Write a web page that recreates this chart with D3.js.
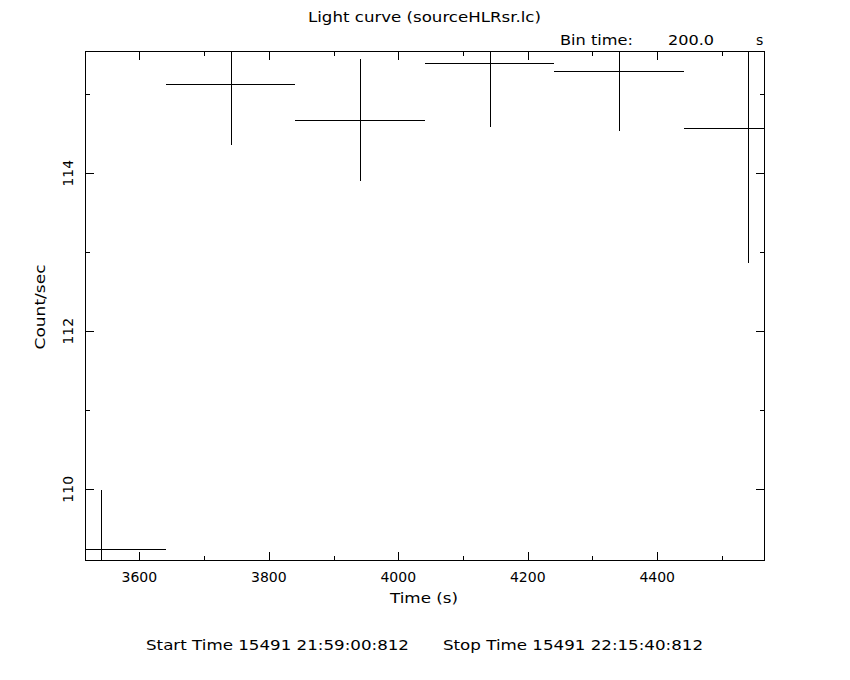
<!DOCTYPE html>
<html>
<head>
<meta charset="utf-8">
<script src="https://cdn.jsdelivr.net/npm/d3@7"></script>
<style>
  html, body { margin: 0; padding: 0; background: #fff; }
  svg { display: block; }
  text { font-family: "DejaVu Sans", "Liberation Sans", sans-serif; fill: #000; }
</style>
</head>
<body>
<svg id="chart" width="850" height="680"></svg>
<script>
// ---- data ----
const binTimes = [3541, 3741, 3941, 4141, 4341, 4541];
const rates    = [109.25, 115.13, 114.67, 115.39, 115.30, 114.57];
const rateErrs = [0.74, 0.77, 0.77, 0.80, 0.77, 1.71];
const binHalfWidth = 100;
const xMajorTicks = [3600, 3800, 4000, 4200, 4400];
const xMinorTicks = [3700, 3900, 4100, 4300, 4500];
const yMajorTicks = [110, 112, 114];
const yMinorTicks = [111, 113, 115];
const titleText = "Light curve (sourceHLRsr.lc)";
const binLabel = "Bin time:";
const binValue = "200.0";
const binUnit = "s";
const xLabel = "Time (s)";
const yLabel = "Count/sec";
const startText = "Start Time 15491 21:59:00:812";
const stopText = "Stop Time 15491 22:15:40:812";

// ---- layout ----
const L = 85, R = 764, T = 51, B = 560;
const svg = d3.select("#chart");
svg.append("rect").attr("width", 850).attr("height", 680).attr("fill", "#fff");

const x = d3.scaleLinear().domain([3516, 4565]).range([L, R]);
const y = d3.scaleLinear().domain([109.105, 115.547]).range([B, T]);

const px = v => Math.round(v) + 0.5;

svg.append("defs").append("clipPath").attr("id", "clip")
  .append("rect").attr("x", L).attr("y", T).attr("width", R - L).attr("height", B - T);

const g = svg.append("g").attr("clip-path", "url(#clip)");
const data = binTimes.map((t, i) => ({ t, r: rates[i], e: rateErrs[i] }));

// horizontal bin bars
g.selectAll("line.h").data(data).enter().append("line")
  .attr("x1", d => x(d.t - binHalfWidth)).attr("x2", d => x(d.t + binHalfWidth))
  .attr("y1", d => px(y(d.r))).attr("y2", d => px(y(d.r)))
  .attr("stroke", "#000").attr("stroke-width", 1).attr("shape-rendering", "crispEdges");
// vertical error bars
g.selectAll("line.v").data(data).enter().append("line")
  .attr("x1", d => px(x(d.t))).attr("x2", d => px(x(d.t)))
  .attr("y1", d => y(d.r - d.e)).attr("y2", d => y(d.r + d.e))
  .attr("stroke", "#000").attr("stroke-width", 1).attr("shape-rendering", "crispEdges");

// frame
svg.append("rect").attr("x", L + 0.5).attr("y", T + 0.5).attr("width", R - L).attr("height", B - T)
  .attr("fill", "none").attr("stroke", "#000").attr("stroke-width", 1).attr("shape-rendering", "crispEdges");

// ticks via d3 axes (inward)
function addAxis(axisFn, scale, ticks, len, transform) {
  const a = axisFn(scale).tickValues(ticks).tickSizeInner(-len).tickSizeOuter(0).tickFormat("");
  const ag = svg.append("g").attr("transform", transform).call(a);
  ag.select(".domain").remove();
  ag.selectAll("line").attr("stroke", "#000").attr("shape-rendering", "crispEdges");
  return ag;
}
addAxis(d3.axisBottom, x, xMajorTicks, 8, `translate(0,${B})`);
addAxis(d3.axisBottom, x, xMinorTicks, 4, `translate(0,${B})`);
addAxis(d3.axisTop, x, xMajorTicks, 8, `translate(0,${T + 1})`);
addAxis(d3.axisTop, x, xMinorTicks, 4, `translate(0,${T + 1})`);
addAxis(d3.axisLeft, y, yMajorTicks, 8, `translate(${L + 1},0)`);
addAxis(d3.axisLeft, y, yMinorTicks, 4, `translate(${L + 1},0)`);
addAxis(d3.axisRight, y, yMajorTicks, 8, `translate(${R},0)`);
addAxis(d3.axisRight, y, yMinorTicks, 4, `translate(${R},0)`);

// tick labels
svg.selectAll("text.xt").data(xMajorTicks).enter().append("text")
  .attr("x", d => x(d)).attr("y", 582).attr("text-anchor", "middle")
  .attr("font-size", 14).text(d => d);
svg.selectAll("text.yt").data(yMajorTicks).enter().append("text")
  .attr("transform", d => `translate(73,${y(d)}) rotate(-90)`)
  .attr("text-anchor", "middle").attr("font-size", 14).text(d => d);

// labels
svg.append("text").attr("x", 424).attr("y", 603).attr("text-anchor", "middle")
  .attr("font-size", 14).attr("textLength", 68).attr("lengthAdjust", "spacingAndGlyphs").text(xLabel);
svg.append("text").attr("transform", `translate(45,307) rotate(-90)`)
  .attr("text-anchor", "middle").attr("font-size", 14)
  .attr("textLength", 85).attr("lengthAdjust", "spacingAndGlyphs").text(yLabel);

svg.append("text").attr("x", 308).attr("y", 22).attr("font-size", 14)
  .attr("textLength", 233).attr("lengthAdjust", "spacingAndGlyphs").text(titleText);
svg.append("text").attr("x", 560).attr("y", 45).attr("font-size", 14)
  .attr("textLength", 73).attr("lengthAdjust", "spacingAndGlyphs").text(binLabel);
svg.append("text").attr("x", 668).attr("y", 45).attr("font-size", 14)
  .attr("textLength", 46).attr("lengthAdjust", "spacingAndGlyphs").text(binValue);
svg.append("text").attr("x", 756).attr("y", 45).attr("font-size", 14).text(binUnit);

svg.append("text").attr("x", 146).attr("y", 650).attr("font-size", 14)
  .attr("textLength", 263).attr("lengthAdjust", "spacingAndGlyphs").text(startText);
svg.append("text").attr("x", 443).attr("y", 650).attr("font-size", 14)
  .attr("textLength", 260).attr("lengthAdjust", "spacingAndGlyphs").text(stopText);
</script>
</body>
</html>
